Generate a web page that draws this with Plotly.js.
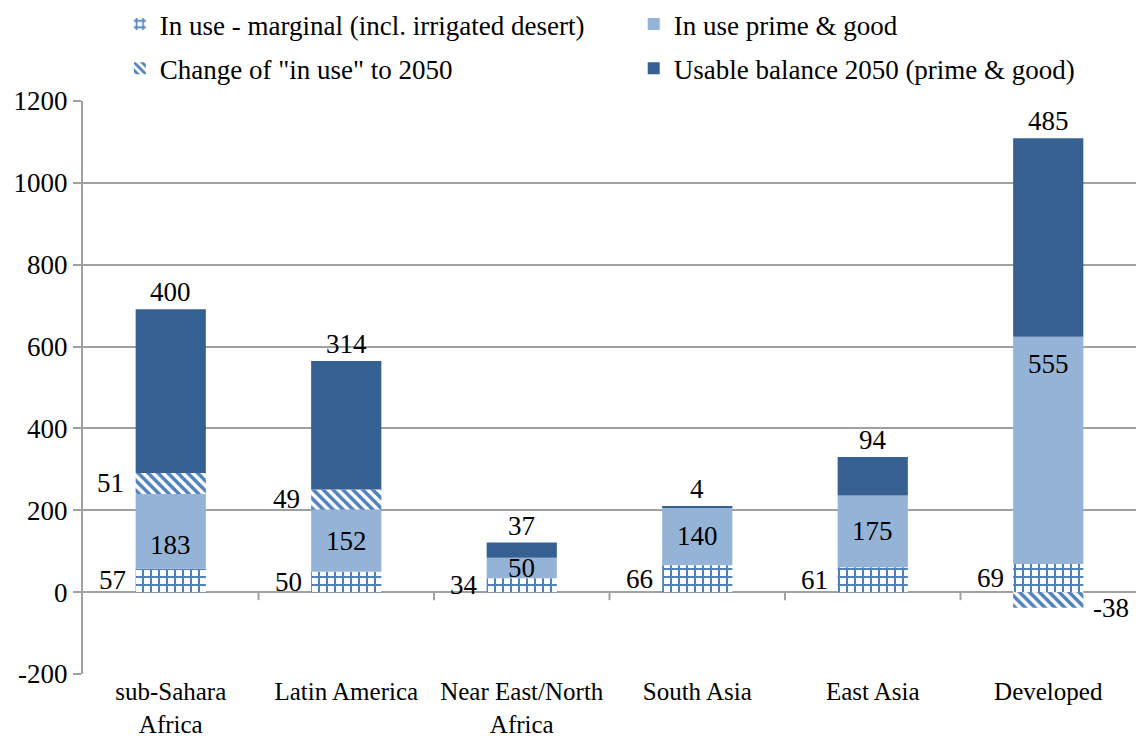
<!DOCTYPE html>
<html>
<head>
<meta charset="utf-8">
<script src="https://cdn.plot.ly/plotly-3.0.1.min.js"></script>
<style>html,body{margin:0;padding:0;background:#fff;}#chart{width:1139px;height:738px;}</style>
</head>
<body>
<div id="chart"></div>
<script>
// ---- data ----
var categories = ["sub-Sahara<br>Africa", "Latin America", "Near East/North<br>Africa", "South Asia", "East Asia", "Developed"];
var marginal = [57, 50, 34, 66, 61, 69];
var prime = [183, 152, 50, 140, 175, 555];
var change = [51, 49, 0, 0, 0, -38];
var balance = [400, 314, 37, 4, 94, 485];
var seriesNames = ["In use - marginal (incl. irrigated desert)", "In use prime & good", "Change of \"in use\" to 2050", "Usable balance 2050 (prime & good)"];
var yTicks = [-200, 0, 200, 400, 600, 800, 1000, 1200];

// ---- style ----
var FONT = "Liberation Serif, Times New Roman, Times, serif";
var FS = 27;
var BLUE = "#4f81bd";
var PRIME = "#95b3d7";
var BAL = "#366092";
var GRID = "#a0a0a0";

var traces = [
  {type: "bar", name: seriesNames[0], x: categories, y: marginal, legend: "legend", legendgroup: "g1",
   marker: {color: "#ffffff", pattern: {shape: "+", fgcolor: BLUE, bgcolor: "#ffffff", size: 8, solidity: 0.45}}},
  {type: "bar", name: seriesNames[1], x: categories, y: prime, legend: "legend2", legendgroup: "g2", marker: {color: PRIME}},
  {type: "bar", name: seriesNames[2], x: categories, y: change, legend: "legend", legendgroup: "g3",
   marker: {color: "#ffffff", pattern: {shape: "\\", fgcolor: BLUE, bgcolor: "#ffffff", size: 7, solidity: 0.5}}},
  {type: "bar", name: seriesNames[3], x: categories, y: balance, legend: "legend2", legendgroup: "g4", marker: {color: BAL}}
];
traces.forEach(function(t){ t.hoverinfo = "none"; t.marker.line = {width: 0}; });

var annFont = {family: FONT, size: FS, color: "#000"};
var annotations = [];
var primeShift = [-14, 0, 0, 0, 0, 86];
for (var i = 0; i < categories.length; i++) {
  annotations.push({x: i, y: marginal[i] / 2, xref: "x", yref: "y", text: String(marginal[i]), showarrow: false, font: annFont, xshift: -58});
  annotations.push({x: i, y: marginal[i] + prime[i] / 2, xref: "x", yref: "y", text: String(prime[i]), showarrow: false, font: annFont, yshift: primeShift[i]});
  if (change[i] > 0) {
    annotations.push({x: i, y: marginal[i] + prime[i] + change[i] / 2, xref: "x", yref: "y", text: String(change[i]), showarrow: false, font: annFont, xshift: -60});
  } else if (change[i] < 0) {
    annotations.push({x: i, y: change[i], xref: "x", yref: "y", text: String(change[i]), showarrow: false, font: annFont, xshift: 63});
  }
  var barTop = marginal[i] + prime[i] + Math.max(change[i], 0) + balance[i];
  annotations.push({x: i, y: barTop, xref: "x", yref: "y", text: String(balance[i]), showarrow: false, font: annFont, yanchor: "bottom"});
}

var shapes = [];
for (var k = 0; k < categories.length - 1; k++) {
  shapes.push({type: "line", xref: "x", yref: "paper", x0: k + 0.5, x1: k + 0.5, y0: 200 / 1400, y1: 200 / 1400 - 8 / 573, line: {color: GRID, width: 2}});
}

var legendBase = {orientation: "v", xanchor: "left", y: 1.01, yanchor: "top", yref: "container",
  font: {family: FONT, size: FS, color: "#000"}, bgcolor: "rgba(0,0,0,0)", tracegroupgap: 6, itemwidth: 30};

var layout = {
  width: 1139, height: 738,
  margin: {l: 83, r: 3, t: 101, b: 64, autoexpand: false},
  paper_bgcolor: "#fff", plot_bgcolor: "#fff",
  font: {family: FONT, size: FS, color: "#000"},
  barmode: "relative",
  bargap: 0.6,
  showlegend: true,
  legend: Object.assign({}, legendBase, {x: 0.035}),
  legend2: Object.assign({}, legendBase, {x: 0.523}),
  xaxis: {type: "category", showgrid: false, showline: false, ticks: "", zeroline: false, tickfont: {family: FONT, size: 25}, fixedrange: true},
  yaxis: {range: [-200, 1200], tickvals: yTicks, ticktext: yTicks.map(String), showgrid: true, gridcolor: GRID, gridwidth: 2,
          zeroline: true, zerolinecolor: GRID, zerolinewidth: 2, showline: true, linecolor: GRID, linewidth: 2,
          ticks: "outside", ticklen: 8, tickcolor: GRID, tickwidth: 2, tickfont: {family: FONT, size: FS}, fixedrange: true},
  annotations: annotations,
  shapes: shapes
};

Plotly.newPlot("chart", traces, layout, {displayModeBar: false});
</script>
</body>
</html>
